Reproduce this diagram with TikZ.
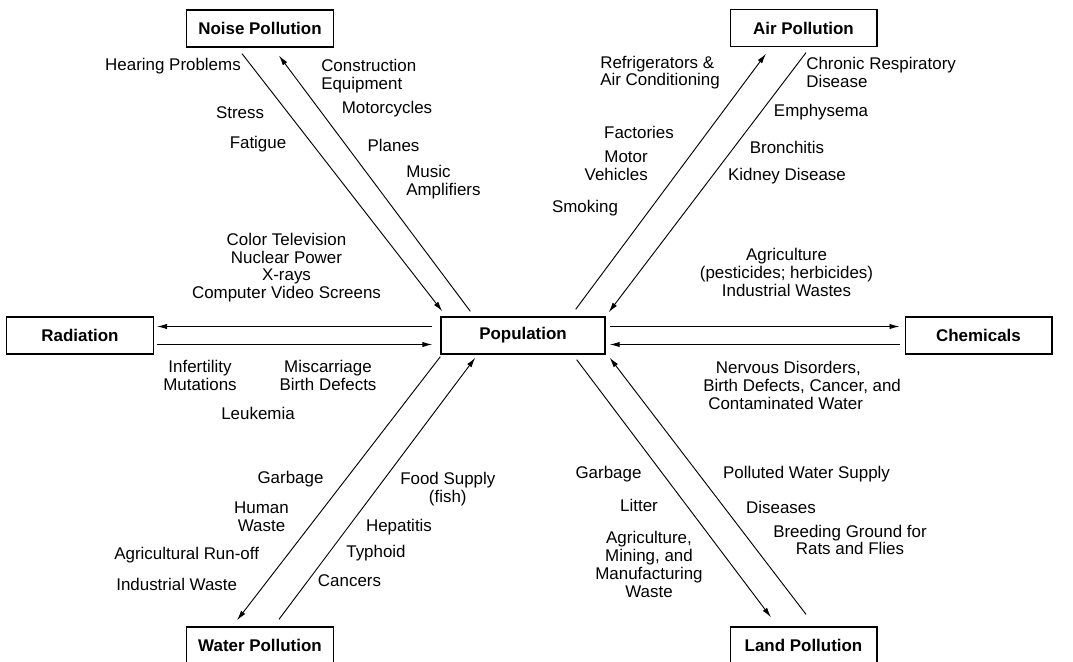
\documentclass[tikz,border=0pt]{standalone}
\usepackage{fontspec}
\setmainfont{Liberation Sans}
\usetikzlibrary{arrows.meta}

\begin{document}
\begin{tikzpicture}[x=0.75pt,y=0.75pt]
\tikzstyle{every node}=[inner sep=0pt, align=center, font=\fontsize{12.7}{13.3}\selectfont]
\tikzstyle{box}=[draw, line width=1pt, minimum width=110pt, minimum height=27.75pt, font=\fontsize{12.7}{13.3}\selectfont\bfseries]
\tikzstyle{arr}=[line width=0.7pt, -{Latex[length=7.5pt,width=4pt]}]
\useasboundingbox (0,0) rectangle (1073,661);
% boxes
\draw (523,325.5) node (pop) [box, minimum width=123pt] {Population};
\draw (260,632.5) node (noise) [box] {Noise Pollution};
\draw (803.5,633) node (air) [box] {Air Pollution};
\draw (80,325.5) node (rad) [box] {Radiation};
\draw (978.5,325.5) node (chem) [box] {Chemicals};
\draw (260,15.5) node (water) [box] {Water Pollution};
\draw (803.5,15.5) node (land) [box] {Land Pollution};
% arrows
\draw[arr] ([shift={(-8,9)}]pop.west) -- ([shift={(3,9)}]rad.east);
\draw[arr] ([shift={(3,-9)}]rad.east) -- ([shift={(-8,-9)}]pop.west);
\draw[arr] ([shift={(4,9)}]pop.east) -- ([shift={(-5,9)}]chem.west);
\draw[arr] ([shift={(-5,-9)}]chem.west) -- ([shift={(4,-9)}]pop.east);
\draw[arr] ([shift={(-18,-6)}]noise.south) -- ([shift={(2,5)}]pop.north west);
\draw[arr] ([shift={(30,5)}]pop.north west) -- ([shift={(19,-8)}]noise.south);
\draw[arr] ([shift={(-30,7)}]pop.north east) -- ([shift={(-37.5,-6.5)}]air.south);
\draw[arr] ([shift={(2.5,-5.5)}]air.south) -- ([shift={(3,4)}]pop.north east);
\draw[arr] ([shift={(0,-2)}]pop.south west) -- ([shift={(-23,6)}]water.north);
\draw[arr] ([shift={(19,7)}]water.north) -- ([shift={(35,-3)}]pop.south west);
\draw[arr] ([shift={(-29,-5)}]pop.south east) -- ([shift={(-32.5,9)}]land.north);
\draw[arr] ([shift={(2.5,12)}]land.north) -- ([shift={(4,-3)}]pop.south east);
% noise
\draw (173,595) node (hearing) {Hearing Problems};
\draw (321,585) node (constr) [anchor=west, align=left] {Construction\\Equipment};
\draw (387,552) node (motorc) {Motorcycles};
\draw (240,548) node (stress) {Stress};
\draw (258,517) node (fatigue) {Fatigue};
\draw (393.5,516) node (planes) {Planes};
\draw (406,479) node (music) [anchor=west, align=left] {Music\\Amplifiers};
\draw (286.5,393.5) node (colortv) {Color Television\\Nuclear Power\\X-rays\\Computer Video Screens};
% air
\draw (600,588.5) node (fridge) [anchor=west, align=left] {Refrigerators \&\\Air Conditioning};
\draw (806,588.5) node (chronic) [anchor=west, align=left] {Chronic Respiratory\\Disease};
\draw (821,549) node (emphy) {Emphysema};
\draw (639,529) node (factories) {Factories};
\draw (648,495.5) node (vehicles) [anchor=east, align=right] {Motor\\Vehicles};
\draw (787,514) node (bronch) {Bronchitis};
\draw (787,485) node (kidney) {Kidney Disease};
\draw (585,453) node (smoking) {Smoking};
\draw (786.5,388.5) node (agri) {Agriculture\\(pesticides; herbicides)\\Industrial Wastes};
% radiation
\draw (200,285.5) node (infert) {Infertility\\Mutations};
\draw (328,285.5) node (miscar) {Miscarriage\\Birth Defects};
\draw (258,248) node (leuk) {Leukemia};
% chemicals
\draw (703,275.5) node (nervous) [anchor=west, align=left] {\hspace*{9.5pt}Nervous Disorders,\\Birth Defects, Cancer, and\\\hspace*{3.75pt}Contaminated Water};
% water
\draw (290.5,182) node (wgarbage) {Garbage};
\draw (261.5,144) node (human) {Human\\Waste};
\draw (186.7,106) node (runoff) {Agricultural Run-off};
\draw (176.7,77) node (indwaste) {Industrial Waste};
\draw (447.8,172) node (food) {Food Supply\\(fish)};
\draw (399,134) node (hepat) {Hepatitis};
\draw (376,108) node (typhoid) {Typhoid};
\draw (349.5,80) node (cancers) {Cancers};
% land
\draw (608.5,187) node (lgarbage) {Garbage};
\draw (639,156) node (litter) {Litter};
\draw (649,96.5) node (mining) {Agriculture,\\Mining, and\\Manufacturing\\Waste};
\draw (806.5,187) node (polluted) {Polluted Water Supply};
\draw (781,154) node (diseases) {Diseases};
\draw (850,121) node (breeding) {Breeding Ground for\\Rats and Flies};
\end{tikzpicture}
\end{document}
